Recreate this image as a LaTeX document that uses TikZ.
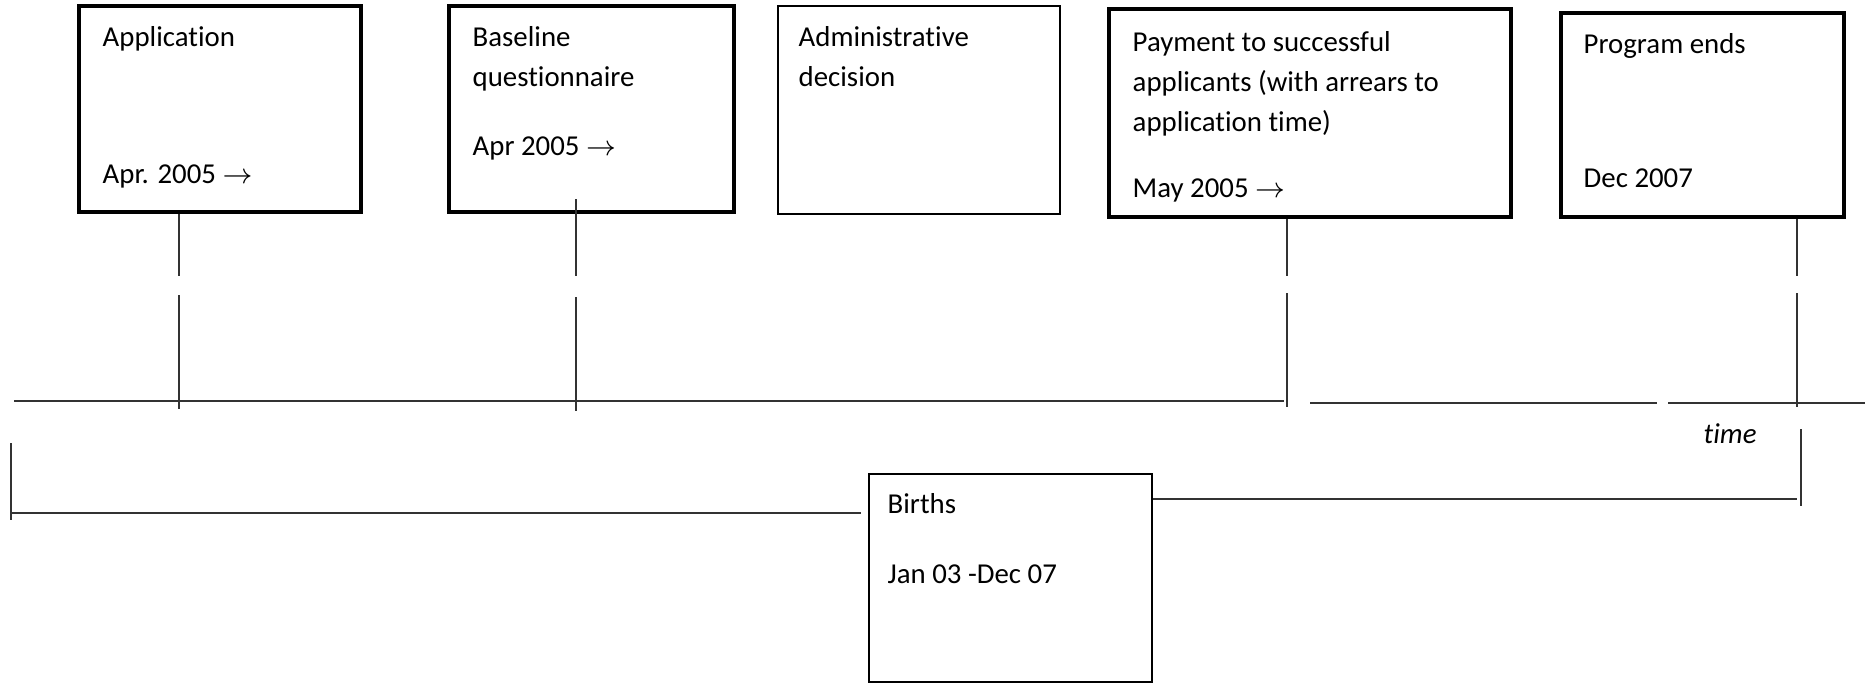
\documentclass[tikz,border=0pt]{standalone}
\usepackage{fontspec}
\setmainfont[Ligatures=NoCommon]{Carlito}
\usetikzlibrary{positioning}

\begin{document}
\begin{tikzpicture}[x=1cm,y=1cm,box/.style={draw,line width=1.1pt,inner sep=0pt},thinbox/.style={draw,line width=.6pt,inner sep=0pt},txt/.style={inner sep=0pt,align=left,font=\fontsize{8.2}{11.4}\selectfont},conn/.style={draw=black!80,line width=.45pt}]
\useasboundingbox (0,0) rectangle (18.74,6.83);

% event boxes
\node[box,minimum width=2.82cm,minimum height=2.06cm] (app) at(2.20,5.74) {};
\node[box,minimum width=2.85cm,minimum height=2.06cm] (quest) at(5.915,5.74) {};
\node[thinbox,minimum width=2.82cm,minimum height=2.08cm] (adm) at(9.19,5.73) {};
\node[box,minimum width=4.02cm,minimum height=2.08cm] (pay) at(13.10,5.70) {};
\node[box,minimum width=2.83cm,minimum height=2.04cm] (prog) at(17.025,5.68) {};
\node[thinbox,minimum width=2.83cm,minimum height=2.08cm] (births) at(10.105,1.05) {};

\node[txt,anchor=base west] (appa) at(1.02,6.37) {Application};
\node[txt,anchor=base west] (appb) at(1.02,5.00) {Apr. 2005 $\rightarrow$};
\node[txt,anchor=north west] (questa) at(4.72,6.57) {Baseline\\questionnaire};
\node[txt,anchor=base west] (questb) at(4.72,5.28) {Apr 2005 $\rightarrow$};
\node[txt,anchor=north west] (adma) at(7.98,6.57) {Administrative\\decision};
\node[txt,anchor=north west] (paya) at(11.32,6.52) {Payment to successful\\applicants (with arrears to\\application time)};
\node[txt,anchor=base west] (payb) at(11.32,4.86) {May 2005 $\rightarrow$};
\node[txt,anchor=base west] (proga) at(15.83,6.30) {Program ends};
\node[txt,anchor=base west] (progb) at(15.83,4.96) {Dec 2007};
\node[txt,anchor=base west] (birthsa) at(8.87,1.70) {Births};
\node[txt,anchor=base west] (birthsb) at(8.87,1.00) {Jan 03 -Dec 07};
\node[txt,anchor=base west,font=\fontsize{8.2}{11.4}\selectfont\itshape] (time) at(17.03,2.40) {time};

% ticks down to the time line
\coordinate (t1) at(1.79,2.74);
\coordinate (t2) at(5.76,2.72);
\coordinate (t3) at(12.87,2.76);
\coordinate (t4) at(17.97,2.76);
\draw[conn] (app.south-|t1) -- (1.79,4.07) (1.79,3.88) -- (t1);
\draw[conn] (5.76,4.84) -- (5.76,4.07) (5.76,3.86) -- (t2);
\draw[conn] (pay.south-|t3) -- (12.87,4.07) (12.87,3.90) -- (t3);
\draw[conn] (prog.south-|t4) -- (17.97,4.07) (17.97,3.90) -- (t4);

% time line
\draw[conn] (0.14,2.82) -- (12.84,2.82);
\draw[conn] (13.10,2.80) -- (16.57,2.80);
\draw[conn] (16.68,2.80) -- (18.65,2.80);

% births window
\coordinate (bl) at(0.11,1.70);
\coordinate (br) at(17.97,1.84);
\draw[conn] (0.11,2.40) -- (0.11,1.63);
\draw[conn] (bl) -- ([xshift=-0.07cm]births.west|-bl);
\draw[conn] (births.east|-br) -- (br);
\draw[conn] (18.01,2.54) -- (18.01,1.77);
\end{tikzpicture}
\end{document}
